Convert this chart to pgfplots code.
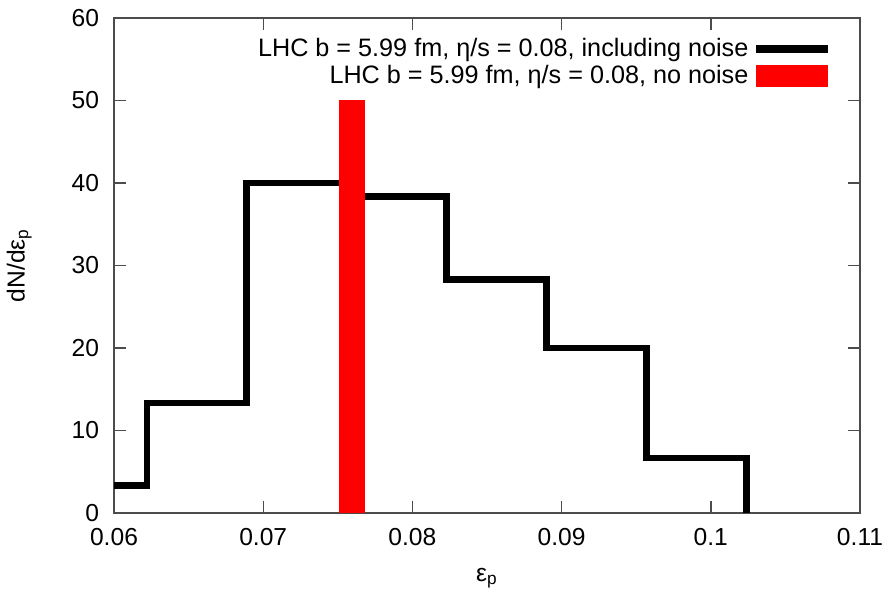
\documentclass[border=0pt]{standalone}
\usepackage{fontspec}
\setmainfont{Liberation Sans}
\usepackage{pgfplots}
\pgfplotsset{compat=1.18}

\begin{document}
\begin{tikzpicture}
\begin{axis}[
  name=ax,
  scale only axis,
  width=373pt, height=247.5pt,
  xmin=0.06, xmax=0.11, ymin=0, ymax=60,
  xtick={0.06,0.07,...,0.11},
  ytick={0,10,...,60},
  xticklabels={0.06,0.07,0.08,0.09,0.1,0.11},
  tick align=inside,
  major tick length=6pt,
  axis line style={black!70, line width=0.9pt},
  tick style={black!70, line width=0.7pt},
  font=\fontsize{12.3}{14}\selectfont,
  /pgf/number format/assume math mode=true,
  xticklabel style={yshift=-4pt},
  yticklabel style={xshift=-4pt},
  xlabel={ε\textsubscript{p}},
  ylabel={dN/dε\textsubscript{p}},
  xlabel style={at={(axis description cs:0.5,0)}, anchor=center, yshift=-32.5pt},
  ylabel style={at={(axis description cs:-0.127,0.5)}, anchor=center},
  legend cell align=right,
  legend plot pos=right,
  legend style={draw=none, fill=none, at={(rel axis cs:1,1)}, anchor=north east,
    xshift=-11pt, yshift=-6pt, row sep=-1pt,
    font=\fontsize{12.6}{15}\selectfont},
]
% distribution of the ellipticity over events, with fluctuations
\addplot[const plot mark left, black, line width=3.3pt, line join=miter,
  legend image code/.code={\draw[black, line width=3.6pt] (0pt,0pt) -- (36pt,0pt);}]
  coordinates {
    (0.0555,3.33) (0.0622,13.33) (0.0689,40.0) (0.0756,38.33)
    (0.0823,28.33) (0.0890,20.0) (0.0957,6.67) (0.1024,6.67) (0.1024,0)
  };
\addlegendentry{LHC b = 5.99 fm, η/s = 0.08, including noise}
% single smooth-event value
\addplot[fill=red, draw=none,
  legend image code/.code={\fill[red] (0pt,-5.5pt) rectangle (36pt,5.5pt);}]
  coordinates {(0.0751,0) (0.0751,50) (0.0768,50) (0.0768,0)} -- cycle;
\addlegendentry{LHC b = 5.99 fm, η/s = 0.08, no noise}
\end{axis}
\pgfresetboundingbox
\useasboundingbox ([xshift=-57pt,yshift=-41.5pt]ax.south west) rectangle ([xshift=14pt,yshift=9pt]ax.north east);
\end{tikzpicture}
\end{document}
